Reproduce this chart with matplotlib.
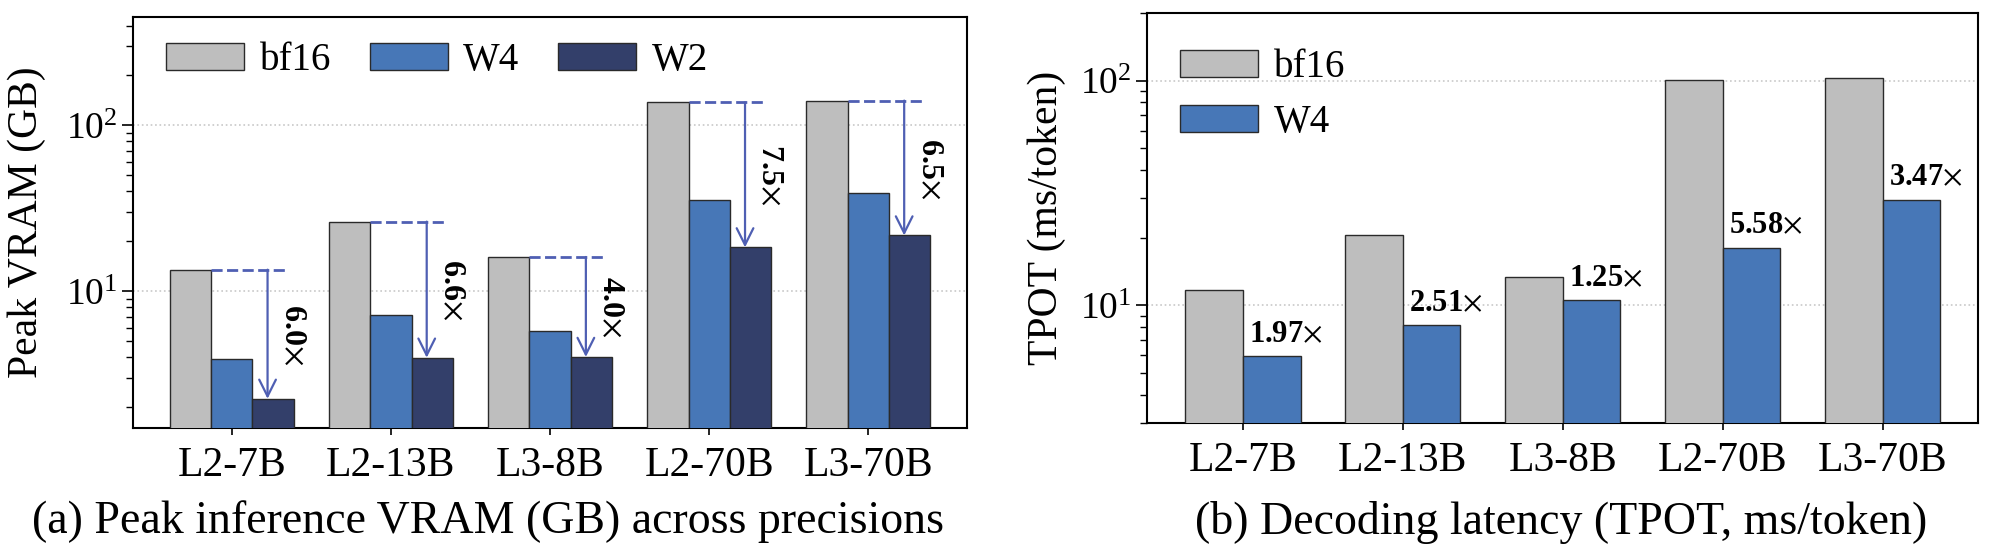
"""Peak VRAM and decoding latency across precisions (two panels)."""

import numpy as np
import matplotlib
matplotlib.use('Agg')
import matplotlib.pyplot as plt

plt.rcParams.update({
    'font.family': 'Liberation Serif',
    'mathtext.fontset': 'stix',
    'font.size': 28,
    'axes.linewidth': 1.5,
})

# ---------------------------------------------------------------------------
# Data
# ---------------------------------------------------------------------------
models = ['L2-7B', 'L2-13B', 'L3-8B', 'L2-70B', 'L3-70B']

vram_bf16 = [13.5, 26.3, 16.1, 137.6, 141.0]
vram_w4   = [3.9, 7.17, 5.77, 35.5, 38.9]
vram_w2   = [2.25, 3.98, 4.02, 18.4, 21.7]
vram_red  = ['6.0', '6.6', '4.0', '7.5', '6.5']

tpot_bf16 = [11.7, 20.5, 13.4, 101.0, 102.6]
tpot_w4   = [5.95, 8.15, 10.6, 18.1, 29.6]
tpot_spd  = ['1.97', '2.51', '1.25', '5.58', '3.47']

# Colours
C_BF16 = '#bebebe'
C_W4   = '#4777b7'
C_W2   = '#333f6a'
C_ARR  = '#4f5fb3'
EDGE   = '#2a2a2a'

fig = plt.figure(figsize=(19.89, 5.56), dpi=100)
ax_a = fig.add_axes([0.0669, 0.2302, 0.4193, 0.7392])
ax_b = fig.add_axes([0.5767, 0.2392, 0.4180, 0.7374])

x = np.arange(len(models))

# ===================================================================
# Panel (a) — peak VRAM
# ===================================================================
w = 0.26
ax_a.bar(x - w, vram_bf16, w, color=C_BF16, edgecolor=EDGE, linewidth=1, label='bf16', zorder=3)
ax_a.bar(x, vram_w4, w, color=C_W4, edgecolor=EDGE, linewidth=1, label='W4', zorder=3)
ax_a.bar(x + w, vram_w2, w, color=C_W2, edgecolor=EDGE, linewidth=1, label='W2', zorder=3)
ax_a.set_yscale('log')
ax_a.set_ylim(1.5, 450)
ax_a.set_xlim(-0.62, 4.62)

for i in range(len(models)):
    top, bot = vram_bf16[i], vram_w2[i]
    ax_a.plot([i - w / 2, i + 0.35], [top, top], color=C_ARR, lw=2,
              dashes=(4, 1.6), zorder=4)
    ax_a.annotate('', xy=(i + 0.225, bot), xytext=(i + 0.225, top),
                  arrowprops=dict(arrowstyle='->', color=C_ARR, lw=1.6,
                                  mutation_scale=30, shrinkA=0, shrinkB=0),
                  zorder=4)
    ax_a.text(i + 0.38, np.sqrt(top * bot), vram_red[i] + r'$\times$', rotation=-90,
              ha='center', va='center', fontsize=23, fontweight='bold', zorder=5)

ax_a.set_ylabel('Peak VRAM (GB)', fontsize=30, labelpad=14)
ax_a.legend(loc='upper left', bbox_to_anchor=(-0.002, 1.025), ncol=3, frameon=False,
            fontsize=28, handlelength=2.0, handleheight=0.7, handletextpad=0.4,
            columnspacing=1.0)

# ===================================================================
# Panel (b) — decoding latency
# ===================================================================
wb = 0.36
ax_b.bar(x - wb / 2, tpot_bf16, wb, color=C_BF16, edgecolor=EDGE, linewidth=1, label='bf16', zorder=3)
ax_b.bar(x + wb / 2, tpot_w4, wb, color=C_W4, edgecolor=EDGE, linewidth=1, label='W4', zorder=3)
ax_b.set_yscale('log')
ax_b.set_ylim(3, 200)
ax_b.set_xlim(-0.6, 4.6)

for i in range(len(models)):
    ax_b.annotate(tpot_spd[i] + r'$\times$', (i + 0.27, tpot_w4[i]), xytext=(0, 5),
                  textcoords='offset points', ha='center', va='bottom',
                  fontsize=22, fontweight='bold', zorder=5)

ax_b.set_ylabel('TPOT (ms/token)', fontsize=30, labelpad=10)
ax_b.legend(loc='upper left', bbox_to_anchor=(-0.002, 0.997), ncol=1, frameon=False,
            fontsize=28, handlelength=2.0, handleheight=0.7, handletextpad=0.4,
            labelspacing=0.46)

# Shared formatting
for ax in (ax_a, ax_b):
    ax.set_xticks(x)
    ax.set_xticklabels(models)
    ax.tick_params(axis='x', labelsize=30, length=5, width=1.2, pad=8)
    ax.tick_params(axis='y', which='major', labelsize=27, length=8, width=1.2)
    ax.tick_params(axis='y', which='minor', length=5, width=1.0)
    ax.yaxis.grid(True, which='major', linestyle=':', color='#c8c8c8', lw=1.2, zorder=0)
    ax.set_axisbelow(True)

fig.text(488 / 1989, 0.061, '(a) Peak inference VRAM (GB) across precisions',
         ha='center', va='center', fontsize=33)
fig.text(1561 / 1989, 0.061, '(b) Decoding latency (TPOT, ms/token)',
         ha='center', va='center', fontsize=33)

fig.savefig('out.png', dpi=100)
plt.close(fig)
